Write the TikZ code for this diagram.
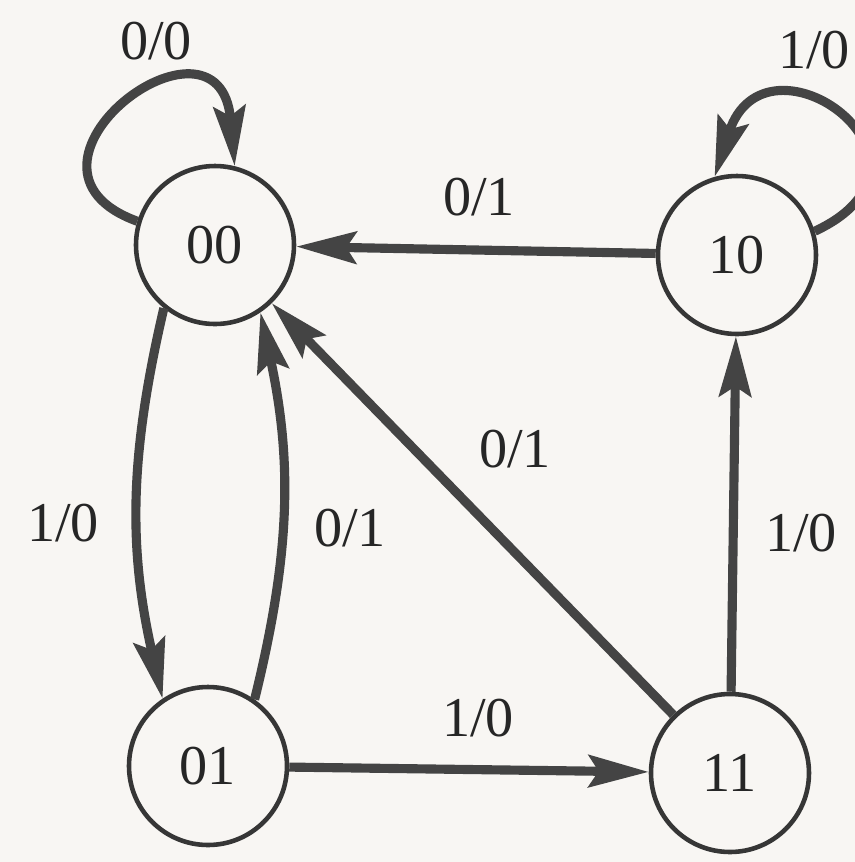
\documentclass[tikz,border=0pt]{standalone}
\usepackage{fontspec}
\setmainfont{Liberation Serif}
\usetikzlibrary{arrows.meta}
\definecolor{paper}{RGB}{248,246,243}
\definecolor{ink}{RGB}{68,68,68}

\begin{document}
\begin{tikzpicture}[
  state/.style={circle,draw=ink!80!black,line width=1.3pt,minimum size=1.58cm,
    inner sep=0pt,font=\fontsize{16}{18}\selectfont,text=black!85},
  trans/.style={draw=ink,line width=2.6pt,
    -{Stealth[length=6mm,width=3.2mm,inset=1mm]}},
  lbl/.style={font=\fontsize{16}{18}\selectfont,text=black!85}]
\useasboundingbox (0,0) rectangle (8.55,-8.62);
\fill[paper] (0,0) rectangle (8.55,-8.62);
\node[state] (n00) at (2.15,-2.45) {00};
\node[state] (n10) at (7.37,-2.55) {10};
\node[state] (n01) at (2.08,-7.66) {01};
\node[state] (n11) at (7.30,-7.73) {11};
\draw[trans] (n00.163) to[out=160,in=95,out distance=1.6cm,in distance=1.75cm] (n00.76);
\draw[trans] (n10.17) to[out=25,in=72,out distance=1.65cm,in distance=1.65cm] (n10.106);
\draw[trans] (n10) -- (n00);
\draw[trans] (n00.231) to[bend right=13] (n01.124);
\draw[trans] (n01.55) to[bend right=13] (n00.304);
\draw[trans] (n11) -- (n00);
\draw[trans] (n11) -- (n10);
\draw[trans] (n01) -- (n11);
\node[lbl] (l00) at (1.56,-0.41) {0/0};
\node[lbl] (l10) at (8.14,-0.50) {1/0};
\node[lbl] (l10a) at (4.79,-1.97) {0/1};
\node[lbl] (l00b) at (0.63,-5.23) {1/0};
\node[lbl] (l01a) at (3.50,-5.28) {0/1};
\node[lbl] (l11a) at (5.15,-4.49) {0/1};
\node[lbl] (l11b) at (8.01,-5.33) {1/0};
\node[lbl] (l01b) at (4.78,-7.18) {1/0};
\end{tikzpicture}
\end{document}
